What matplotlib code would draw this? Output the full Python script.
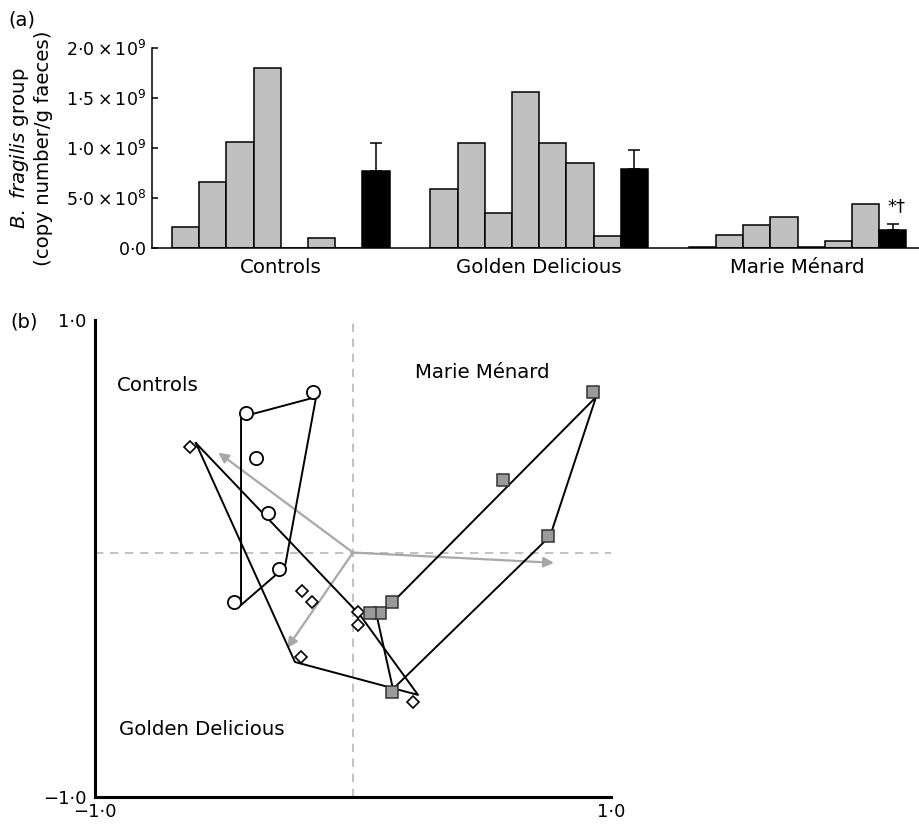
import matplotlib
matplotlib.use('Agg')
import matplotlib.pyplot as plt
import numpy as np

# panel (a) data: B. fragilis group counts per animal, then group mean +/- SEM
groups = ['Controls', 'Golden Delicious', 'Marie Ménard']
controls = [2.1e8, 6.6e8, 1.06e9, 1.80e9, 0, 0.97e8, 0]
golden = [5.9e8, 1.05e9, 3.5e8, 1.56e9, 1.05e9, 8.5e8, 1.2e8]
marie = [1.2e7, 1.3e8, 2.3e8, 3.1e8, 1.2e7, 6.7e7, 4.4e8]
means = [7.7e8, 7.9e8, 1.75e8]
sems = [2.8e8, 1.9e8, 0.65e8]
a_ticks = [0, 5e8, 1e9, 1.5e9, 2e9]
a_ticklabels = [r'$0{\cdot}0$', r'$5{\cdot}0\times10^{8}$', r'$1{\cdot}0\times10^{9}$',
                r'$1{\cdot}5\times10^{9}$', r'$2{\cdot}0\times10^{9}$']

# panel (b) data: PCA scores, hull outlines and loading arrows
ctrl_x = [-0.415, -0.156, -0.376, -0.331, -0.286, -0.460]
ctrl_y = [0.610, 0.699, 0.423, 0.190, -0.044, -0.181]
ctrl_hull_x = [-0.434, -0.143, -0.264, -0.434]
ctrl_hull_y = [0.593, 0.677, -0.036, -0.195]

gold_x = [-0.632, -0.199, -0.158, 0.021, 0.018, -0.202, 0.234]
gold_y = [0.466, -0.135, -0.184, -0.226, -0.279, -0.414, -0.600]
gold_hull_x = [-0.609, 0.027, 0.252, -0.225]
gold_hull_y = [0.484, -0.237, -0.572, -0.434]

marie_x = [0.931, 0.580, 0.757, 0.150, 0.105, 0.066, 0.150]
marie_y = [0.699, 0.329, 0.096, -0.184, -0.230, -0.230, -0.558]
marie_hull_x = [0.942, 0.764, 0.155, 0.093, 0.169]
marie_hull_y = [0.677, 0.094, -0.547, -0.245, -0.167]

origin = (0.0, 0.025)
arrow_tips = [(-0.522, 0.444), (-0.255, -0.375), (0.779, -0.018)]
b_ticks = [-1, 1]
b_ticklabels = ['\u22121\u00b70', '1\u00b70']

#set figure size
fig = plt.figure(figsize=(9.19, 8.25), dpi=100)

#---------------- panel (a) ----------------
ax1 = fig.add_axes([152/919, 1-248/825, (919-152)/919, (248-47.7)/825])

gap = 9.5
for g, vals in enumerate([controls, golden, marie]):
    xs = g*gap + np.arange(len(vals))
    ax1.bar(xs, vals, width=1, color='#c0c0c0', edgecolor='black', linewidth=1.1, zorder=2)

mean_x = np.arange(3)*gap + 7
ax1.bar(mean_x, means, width=1, color='black', edgecolor='black', linewidth=1.1, zorder=2)
ax1.errorbar(mean_x, means, yerr=[np.zeros(3), sems], fmt='none', ecolor='black',
             elinewidth=1.1, capsize=4, capthick=1.1, zorder=1)
ax1.text(mean_x[2] + 0.15, 4.2e8, '*\u2020', fontsize=13, ha='center', va='center')

ax1.set_xlim(-1.235, 26.96)
ax1.set_ylim(0, 2e9)
ax1.set_xticks(np.arange(3)*gap + 3.5)
ax1.set_xticklabels(groups, fontsize=14.2)
ax1.set_yticks(a_ticks)
ax1.set_yticklabels(a_ticklabels, fontsize=12.5)
ax1.tick_params(axis='x', length=0, pad=7)
ax1.tick_params(axis='y', direction='in', length=4, width=1.1, pad=4)
ax1.spines['top'].set_visible(False)
ax1.spines['right'].set_visible(False)
ax1.spines['left'].set_linewidth(1.1)
ax1.spines['bottom'].set_linewidth(1.1)

fig.text(31/919, 1-148/825, '$\\it{B.\\ fragilis}$ group\n(copy number/g faeces)',
         rotation=90, ha='center', va='center', fontsize=14.2, linespacing=1.2)
fig.text(8/919, 1-20/825, '(a)', fontsize=14, va='center')

#---------------- panel (b) ----------------
ax2 = fig.add_axes([95/919, 28/825, 516/919, 477/825])
ax2.axvline(origin[0], color='#b8b8b8', ls=(0, (5, 4)), lw=1.2, zorder=0)
ax2.axhline(origin[1], color='#b8b8b8', ls=(0, (5, 4)), lw=1.2, zorder=0)

for tip in arrow_tips:
    ax2.annotate('', xy=tip, xytext=origin,
                 arrowprops=dict(arrowstyle='-|>', color='#a8a8a8', lw=1.6,
                                 mutation_scale=15, shrinkA=0, shrinkB=0), zorder=1)

for hx, hy in [(ctrl_hull_x, ctrl_hull_y), (gold_hull_x, gold_hull_y), (marie_hull_x, marie_hull_y)]:
    ax2.plot(hx + hx[:1], hy + hy[:1], color='black', lw=1.4, zorder=2)

ax2.plot(ctrl_x, ctrl_y, 'o', ms=9.5, mfc='white', mec='black', mew=1.3, ls='none', zorder=3)
ax2.plot(gold_x, gold_y, 'D', ms=6.3, mfc='white', mec='black', mew=1.2, ls='none', zorder=3)
ax2.plot(marie_x, marie_y, 's', ms=8.3, mfc='#9a9a9a', mec='#333333', mew=1.1, ls='none', zorder=3)

ax2.text(-0.917, 0.727, 'Controls', fontsize=14.2, va='center')
ax2.text(0.240, 0.779, 'Marie Ménard', fontsize=14.2, va='center')
ax2.text(-0.908, -0.719, 'Golden Delicious', fontsize=14.2, va='center')

ax2.set_xlim(-1, 1)
ax2.set_ylim(-1, 1)
ax2.set_xticks(b_ticks)
ax2.set_xticklabels(b_ticklabels, fontsize=13)
ax2.set_yticks(b_ticks)
ax2.set_yticklabels(b_ticklabels, fontsize=13)
ax2.tick_params(length=0)
ax2.tick_params(axis='x', pad=4)
ax2.tick_params(axis='y', pad=6)
ax2.spines['top'].set_visible(False)
ax2.spines['right'].set_visible(False)
ax2.spines['left'].set_linewidth(2.2)
ax2.spines['bottom'].set_linewidth(2.2)

fig.text(10/919, 1-322/825, '(b)', fontsize=14, va='center')

plt.savefig('out.png', dpi=100)
